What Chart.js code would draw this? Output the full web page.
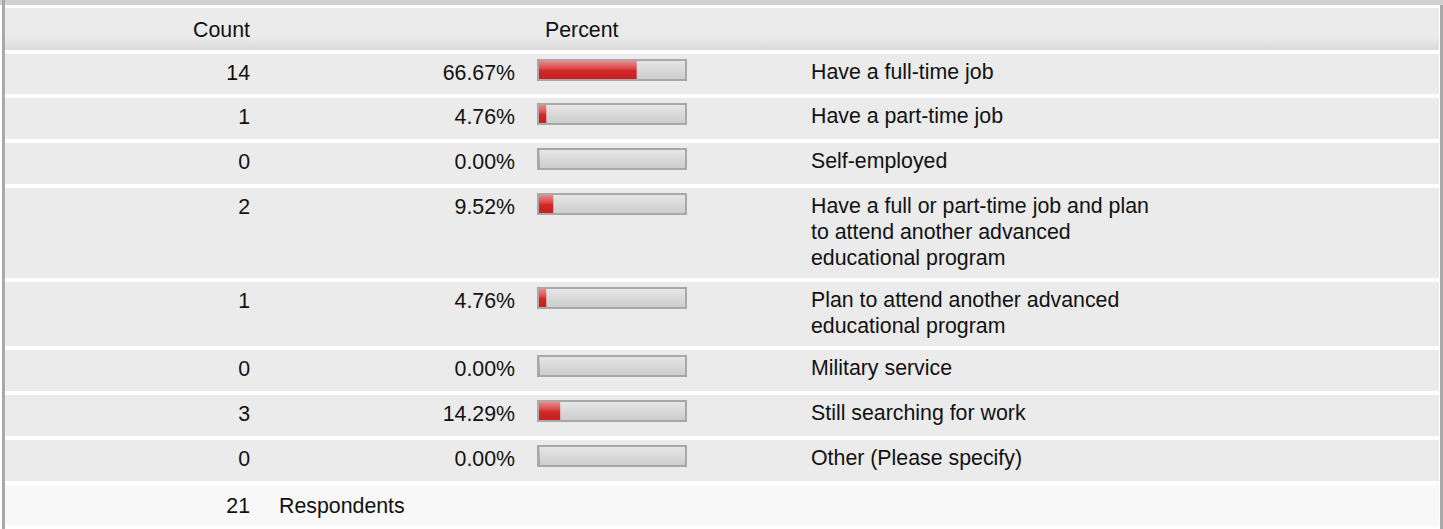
<!DOCTYPE html>
<html>
<head>
<meta charset="utf-8">
<script src="https://cdn.jsdelivr.net/npm/chart.js@4.4.1/dist/chart.umd.min.js"></script>
<style>
  html, body { margin: 0; padding: 0; background: #fff; }
  body { width: 1443px; height: 529px; position: relative; overflow: hidden;
         font-family: Arial, "Liberation Sans", Helvetica, sans-serif; font-size: 21.33px; color: #111; }
  .topbar { position: absolute; left: 0; top: 0; width: 1443px; height: 5px; background: #d0d0d0; }
  .lborder { position: absolute; left: 2px; top: 0; width: 3px; height: 529px; background: #a9a9a9; }
  .rborder { position: absolute; left: 1440px; top: 5px; width: 3px; height: 524px; background: #a9a9a9; }
  .row { position: absolute; left: 5px; width: 1434px; background: #ebebeb; }
  .row.head { background: linear-gradient(#ebebeb 0%, #ebebeb 68%, #dadada 100%); }
  .row.foot { background: #f8f8f8; }
  .cell { position: absolute; top: 6px; line-height: 26px; white-space: nowrap; }
  .count { left: 0; width: 245px; text-align: right; }
  .pct { left: 0; width: 510px; text-align: right; }
  .label { left: 806px; width: 350px; white-space: normal; top: 5px; }
  .bar { position: absolute; left: 532px; top: 5px; }
</style>
</head>
<body>
<div class="topbar"></div>
<div id="table"></div>
<div class="lborder"></div>
<div class="rborder"></div>
<script>
// survey answers
const categories = [
  'Have a full-time job',
  'Have a part-time job',
  'Self-employed',
  'Have a full or part-time job and plan to attend another advanced educational program',
  'Plan to attend another advanced educational program',
  'Military service',
  'Still searching for work',
  'Other (Please specify)'
];
const counts = [14, 1, 0, 2, 1, 0, 3, 0];
const percents = [66.67, 4.76, 0.00, 9.52, 4.76, 0.00, 14.29, 0.00];
const respondents = 21;

// row heights in px (header, answers..., footer)
const headH = 42, gap = 4;
const rowH = [40, 41, 41, 90, 64, 41, 41, 41];
const footH = 41;

const table = document.getElementById('table');

function addRow(cls, top, h) {
    const r = document.createElement('div');
    r.className = 'row ' + cls;
    r.style.top = top + 'px';
    r.style.height = h + 'px';
    table.appendChild(r);
    return r;
}
function addCell(row, cls, text, extra) {
    const c = document.createElement('div');
    c.className = 'cell ' + cls;
    c.textContent = text;
    if (extra) Object.assign(c.style, extra);
    row.appendChild(c);
    return c;
}

// gray track + border drawn behind the bar
const trackPlugin = {
    id: 'track',
    beforeDraw(chart) {
        const ctx = chart.ctx, w = chart.width, h = chart.height;
        ctx.save();
        ctx.fillStyle = '#a8a8a8';
        ctx.fillRect(0, 0, w, h);
        const g = ctx.createLinearGradient(0, 2, 0, h - 2);
        g.addColorStop(0, '#e6e6e6');
        g.addColorStop(1, '#cdcdcd');
        ctx.fillStyle = g;
        ctx.fillRect(2, 2, w - 4, h - 4);
        ctx.restore();
    }
};

function redFill(context) {
    const area = context.chart.chartArea;
    if (!area) return '#cc2222';
    const g = context.chart.ctx.createLinearGradient(0, area.top, 0, area.bottom);
    g.addColorStop(0, '#ea8a8a');
    g.addColorStop(0.4, '#dc4a4a');
    g.addColorStop(0.55, '#cf2727');
    g.addColorStop(1, '#c82020');
    return g;
}

function makeBar(row, value) {
    const cv = document.createElement('canvas');
    cv.className = 'bar';
    cv.width = 150; cv.height = 22;
    cv.style.width = '150px'; cv.style.height = '22px';
    row.appendChild(cv);
    new Chart(cv.getContext('2d'), {
        type: 'bar',
        data: { labels: [''], datasets: [{ data: [value], backgroundColor: redFill, borderWidth: 0,
                barPercentage: 1, categoryPercentage: 1 }] },
        options: {
            indexAxis: 'y',
            responsive: false,
            maintainAspectRatio: false,
            animation: false,
            devicePixelRatio: 1,
            layout: { padding: 2 },
            plugins: { legend: { display: false }, tooltip: { enabled: false } },
            scales: {
                x: { display: false, min: 0, max: 100 },
                y: { display: false }
            }
        },
        plugins: [trackPlugin]
    });
}

let y = 8;
const head = addRow('head', y, headH);
addCell(head, 'count', 'Count', { top: '9px' });
addCell(head, 'pct', 'Percent', { top: '9px', left: '540px', width: 'auto', textAlign: 'left' });
y += headH + gap;

categories.forEach((cat, i) => {
    const r = addRow('', y, rowH[i]);
    addCell(r, 'count', String(counts[i]));
    addCell(r, 'pct', percents[i].toFixed(2) + '%');
    makeBar(r, percents[i]);
    addCell(r, 'label', cat);
    y += rowH[i] + gap;
});

const foot = addRow('foot', y, footH);
addCell(foot, 'count', String(respondents), { top: '8px' });
addCell(foot, 'pct', 'Respondents', { top: '8px', left: '274px', width: 'auto', textAlign: 'left' });
</script>
</body>
</html>
